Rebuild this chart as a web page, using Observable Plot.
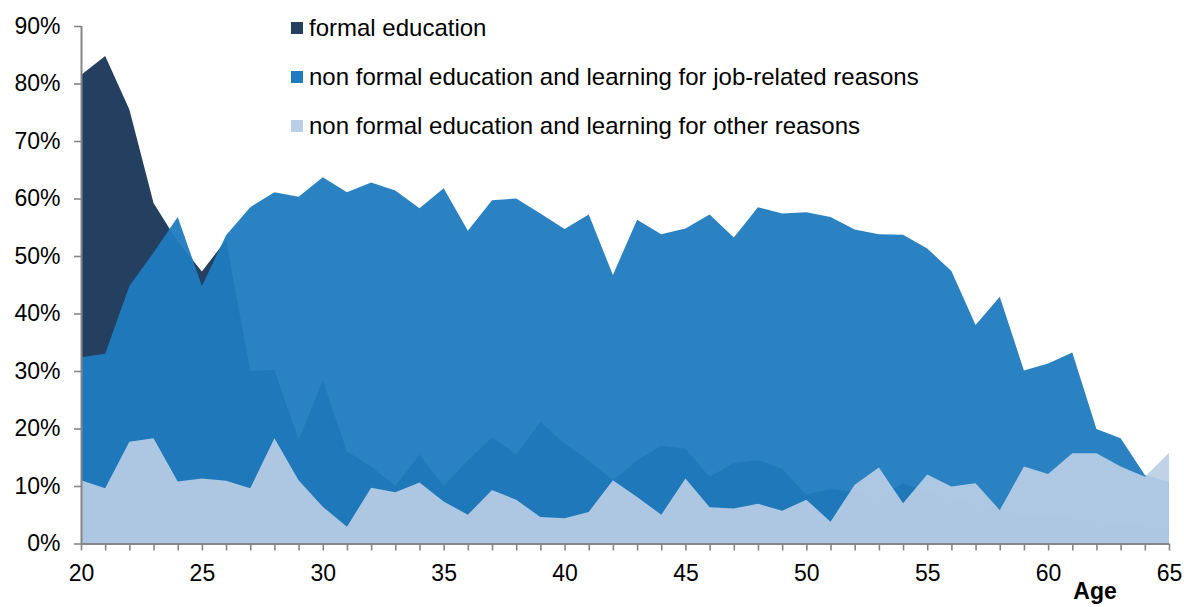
<!DOCTYPE html>
<html>
<head>
<meta charset="utf-8">
<script src="https://cdn.jsdelivr.net/npm/d3@7"></script>
<script src="https://cdn.jsdelivr.net/npm/@observablehq/plot@0.6"></script>
<style>
  html, body { margin: 0; padding: 0; background: #fff; }
  #wrap { position: relative; width: 1184px; height: 607px; overflow: hidden; font-family: "Liberation Sans", Arial, sans-serif; }
  #legend { position: absolute; left: 291px; top: 0; font-size: 24px; color: #000; }
  .item { position: absolute; left: 0; white-space: nowrap; display: flex; align-items: center; height: 28px; }
  .sw { width: 12px; height: 12px; margin-right: 6px; flex: none; }
</style>
</head>
<body>
<div id="wrap">
  <div id="chart"></div>
  <div id="legend"></div>
</div>
<script>
// ---- data (percent) ----
const ages = d3.range(20, 66);
const formalEducation = [81.5, 84.8, 75.5, 59.2, 52.5, 47.3, 52.8, 30, 30.2, 18, 28.4, 16, 13.4, 10, 15.5, 10, 14.5, 18.5, 15.5, 21.2, 17.4, 14.5, 11, 14.5, 17, 16.5, 11.6, 14, 14.5, 13, 8.5, 9.5, 9, 8, 10.5, 9, 8, 7, 6, 5, 5, 4.5, 4, 3.5, 3, 3];
const jobRelated = [32.4, 33, 44.8, 50.6, 56.8, 44.8, 53.6, 58.5, 61.1, 60.3, 63.7, 61.1, 62.8, 61.4, 58.3, 61.8, 54.4, 59.7, 60.0, 57.4, 54.7, 57.2, 46.7, 56.3, 53.8, 54.8, 57.2, 53.2, 58.5, 57.4, 57.6, 56.8, 54.6, 53.8, 53.7, 51.3, 47.4, 38.0, 42.9, 30.1, 31.3, 33.2, 19.9, 18.3, 11.9, 10.7];
const otherReasons = [11.0, 9.6, 17.7, 18.3, 10.8, 11.3, 10.9, 9.6, 18.3, 11.0, 6.4, 2.9, 9.7, 8.9, 10.6, 7.3, 5.0, 9.3, 7.6, 4.6, 4.4, 5.5, 11.0, 8.1, 5.0, 11.3, 6.3, 6.1, 6.9, 5.7, 7.6, 3.8, 10.2, 13.2, 7.0, 12.0, 9.9, 10.5, 5.8, 13.4, 12.1, 15.7, 15.7, 13.4, 11.6, 15.8];
const seriesNames = ["formal education", "non formal education and learning for job-related reasons", "non formal education and learning for other reasons"];
const seriesColors = ["#243f60", "#1f7bbf", "#bacee6"];
const yTicks = [0, 10, 20, 30, 40, 50, 60, 70, 80, 90];
const xTickLabels = [20, 25, 30, 35, 40, 45, 50, 55, 60, 65];
const xTitle = "Age";

const rows = ages.map((a, i) => ({age: a, formal: formalEducation[i], job: jobRelated[i], other: otherReasons[i]}));

const axisGray = "#868686";
const chart = Plot.plot({
  width: 1184,
  height: 607,
  marginLeft: 81,
  marginRight: 15,
  marginTop: 26,
  marginBottom: 63.5,
  style: {fontFamily: "'Liberation Sans', Arial, sans-serif", fontSize: "23px", color: "#000", background: "#fff", overflow: "visible"},
  x: {domain: [20, 65]},
  y: {domain: [0, 90]},
  marks: [
    Plot.areaY(rows, {x: "age", y: "formal", fill: seriesColors[0]}),
    Plot.areaY(rows, {x: "age", y: "job", fill: seriesColors[1], fillOpacity: 0.95}),
    Plot.areaY(rows, {x: "age", y: "other", fill: seriesColors[2], fillOpacity: 0.92}),
    Plot.axisY({ticks: yTicks, tickFormat: d => d + "%", tickSize: 7, tickPadding: 14, stroke: axisGray, strokeWidth: 1.6, fill: "#000", fontSize: 23, label: null}),
    Plot.axisX({ticks: ages, tickFormat: d => xTickLabels.includes(d) ? String(d) : "", tickSize: 7, tickPadding: 14, stroke: axisGray, strokeWidth: 1.6, fill: "#000", fontSize: 23, label: null}),
    Plot.ruleX([20], {y1: 0, y2: 90, stroke: axisGray, strokeWidth: 2}),
    Plot.ruleY([0], {stroke: axisGray, strokeWidth: 2}),
    Plot.text([xTitle], {frameAnchor: "bottom-right", textAnchor: "middle", dx: -74.5, dy: 55, fontWeight: "bold", fontSize: 23})
  ]
});
document.getElementById("chart").appendChild(chart);

const legend = document.getElementById("legend");
const tops = [14, 63, 112];
seriesNames.forEach((name, i) => {
  const it = document.createElement("div");
  it.className = "item";
  it.style.top = tops[i] + "px";
  const sw = document.createElement("span");
  sw.className = "sw";
  sw.style.background = seriesColors[i];
  it.appendChild(sw);
  it.appendChild(document.createTextNode(name));
  legend.appendChild(it);
});
</script>
</body>
</html>
